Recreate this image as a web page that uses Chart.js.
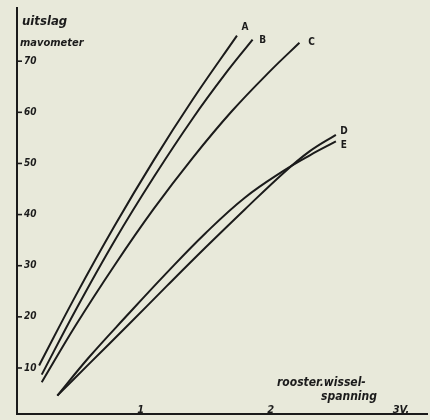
<!DOCTYPE html>
<html>
<head>
<meta charset="utf-8">
<script src="https://cdn.jsdelivr.net/npm/chart.js@4"></script>
<style>
  html, body { margin: 0; padding: 0; background: #e8e9da; }
  #wrap { width: 430px; height: 420px; position: relative; }
</style>
</head>
<body>
<div id="wrap"><canvas id="chart"></canvas></div>
<script>
// Grid AC voltage (V) vs galvanometer deflection, five curves A..E

// Tick labels
var xTickValues = [1, 2, 3];
var xTickLabels = ['1', '2', '3V.'];
var yTickValues = [10, 20, 30, 40, 50, 60, 70];

// Curve A
var aVolt = [0.22, 0.5, 0.8, 1.1, 1.4, 1.74];
var aDefl = [10.5, 24.1, 37.8, 50.6, 62.5, 75];
// Curve B
var bVolt = [0.24, 0.5, 0.8, 1.1, 1.4, 1.65, 1.86];
var bDefl = [8.7, 21.3, 34.9, 47.3, 58.8, 67.5, 74.2];
// Curve C
var cVolt = [0.24, 0.5, 0.8, 1.1, 1.4, 1.7, 2.0, 2.22];
var cDefl = [7.2, 18.3, 30.1, 41.1, 51.1, 60.2, 68.2, 73.6];
// Curve D
var dVolt = [0.36, 0.6, 0.9, 1.2, 1.5, 1.8, 2.1, 2.3, 2.5];
var dDefl = [4.6, 10.7, 18.3, 26, 33.6, 41, 48.2, 52.4, 55.6];
// Curve E
var eVolt = [0.36, 0.6, 0.9, 1.2, 1.5, 1.8, 2.1, 2.3, 2.5];
var eDefl = [4.6, 12, 20.4, 28.6, 36.4, 43.3, 48.6, 51.6, 54.3];

var curveNames = ['A', 'B', 'C', 'D', 'E'];

var INK = '#1b1b1b';
var FAMILY = "'DejaVu Sans Condensed', 'DejaVu Sans', sans-serif";

function toPoints(xs, ys) {
  return xs.map(function(x, i) { return { x: x, y: ys[i] }; });
}

// Label offsets (px) from the last point of each curve
var LABEL_OFFSETS = {
  A: [8, -8], B: [10, 1], C: [12, 0], D: [8, -3], E: [8, 4]
};

// Draws the hand-lettered bits: ticks, tick labels, titles, curve names
var handLettering = {
  id: 'handLettering',
  afterDraw: function(chart) {
    var ctx = chart.ctx;
    var area = chart.chartArea;
    var xs = chart.scales.x;
    var ys = chart.scales.y;
    ctx.save();
    ctx.fillStyle = INK;
    ctx.strokeStyle = INK;

    // y ticks: a short dash inside the axis, then the number
    ctx.lineWidth = 1.6;
    ctx.font = 'bold italic 10px ' + FAMILY;
    ctx.textAlign = 'left';
    ctx.textBaseline = 'middle';
    yTickValues.forEach(function(v) {
      var py = ys.getPixelForValue(v);
      ctx.beginPath();
      ctx.moveTo(area.left, py);
      ctx.lineTo(area.left + 5, py);
      ctx.stroke();
      ctx.fillText(String(v), area.left + 7, py);
    });

    // x tick labels sit just above the axis
    ctx.font = 'bold italic 11px ' + FAMILY;
    ctx.textAlign = 'center';
    ctx.textBaseline = 'alphabetic';
    xTickValues.forEach(function(v, i) {
      ctx.fillText(xTickLabels[i], xs.getPixelForValue(v), area.bottom - 1);
    });

    // y axis title
    ctx.textAlign = 'left';
    ctx.font = 'bold italic 13px ' + FAMILY;
    ctx.fillText('uitslag', area.left + 5, area.top + 17);
    ctx.font = 'bold italic 11px ' + FAMILY;
    ctx.fillText('mavometer', area.left + 3, area.top + 38);

    // x axis title
    ctx.font = 'bold italic 12px ' + FAMILY;
    ctx.fillText('rooster.wissel-', area.right - 150, area.bottom - 28);
    ctx.fillText('spanning', area.right - 106, area.bottom - 14);

    // curve names at the line ends
    ctx.font = 'bold 10px ' + FAMILY;
    ctx.textAlign = 'center';
    ctx.textBaseline = 'middle';
    chart.data.datasets.forEach(function(ds) {
      var last = ds.data[ds.data.length - 1];
      var off = LABEL_OFFSETS[ds.label];
      ctx.fillText(ds.label, xs.getPixelForValue(last.x) + off[0], ys.getPixelForValue(last.y) + off[1]);
    });
    ctx.restore();
  }
};

var series = [
  toPoints(aVolt, aDefl),
  toPoints(bVolt, bDefl),
  toPoints(cVolt, cDefl),
  toPoints(dVolt, dDefl),
  toPoints(eVolt, eDefl)
];

new Chart(document.getElementById('chart'), {
  type: 'line',
  data: {
    datasets: series.map(function(pts, i) {
      return {
        label: curveNames[i],
        data: pts,
        borderColor: INK,
        borderWidth: 2,
        pointRadius: 0,
        fill: false,
        tension: 0.4
      };
    })
  },
  options: {
    responsive: true,
    maintainAspectRatio: false,
    animation: false,
    layout: { padding: { left: 17, right: 3, top: 8, bottom: 6 } },
    plugins: {
      legend: { display: false },
      tooltip: { enabled: false }
    },
    scales: {
      x: {
        type: 'linear',
        min: 0.05,
        max: 3.2,
        grid: { display: false, drawTicks: false },
        border: { display: true, color: INK, width: 2 },
        ticks: { display: false }
      },
      y: {
        type: 'linear',
        min: 1,
        max: 80.4,
        grid: { display: false, drawTicks: false },
        border: { display: true, color: INK, width: 2 },
        ticks: { display: false }
      }
    }
  },
  plugins: [handLettering]
});
</script>
</body>
</html>
